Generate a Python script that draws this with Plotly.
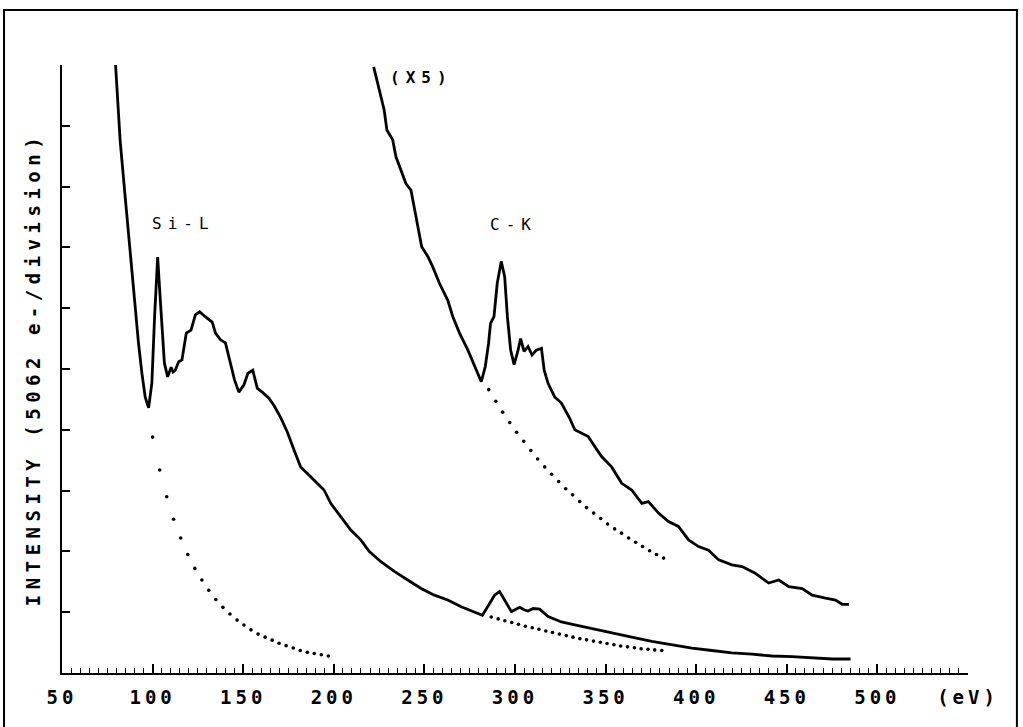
import plotly.graph_objects as go

# ---------------- data ----------------
# main spectrum (eV, intensity in divisions)
main_x = [79.5, 82.1, 84.9, 87.6, 89.9, 92.2, 94.1, 95.9, 97.8, 99.6, 101.1, 102.0, 102.8, 103.9,
          105.2, 106.5, 108.3, 110.2, 111.3, 112.5, 114.4, 116.2, 118.6, 121.2, 123.6, 126.0,
          129.1, 132.9, 134.7, 137.5, 140.2, 143.0, 145.2, 147.6, 150.4, 152.6, 155.3, 157.8,
          160.5, 164.2, 167.0, 170.7, 174.4, 178.0, 181.7, 185.4, 189.1, 194.6, 198.3, 203.9,
          209.4, 214.9, 219.5, 226.0, 233.4, 240.8, 248.2, 255.5, 262.9, 270.3, 275.8, 282.0,
          285.5, 288.7, 291.5, 294.3, 298.0, 300.5, 302.6, 305.0, 307.2, 310.0, 313.6, 318.3,
          325.6, 333.0, 342.2, 353.3, 364.4, 375.5, 386.5, 397.6, 408.7, 419.7, 430.8, 441.9,
          453.0, 464.0, 475.1, 485.2]
main_y = [10.03, 8.75, 7.82, 6.96, 6.13, 5.43, 4.93, 4.54, 4.36, 4.77, 5.86, 6.51, 6.84, 6.30,
          5.59, 5.10, 4.87, 5.03, 4.95, 4.98, 5.12, 5.15, 5.59, 5.64, 5.89, 5.94,
          5.86, 5.77, 5.59, 5.48, 5.43, 5.10, 4.82, 4.62, 4.74, 4.93, 4.98, 4.68,
          4.62, 4.52, 4.40, 4.20, 3.96, 3.67, 3.39, 3.28, 3.17, 3.01, 2.79, 2.57,
          2.35, 2.19, 2.00, 1.83, 1.67, 1.53, 1.39, 1.28, 1.20, 1.09, 1.03, 0.95,
          1.12, 1.28, 1.34, 1.20, 1.01, 1.05, 1.08, 1.04, 1.02, 1.06, 1.05, 0.93,
          0.84, 0.79, 0.73, 0.65, 0.59, 0.52, 0.46, 0.41, 0.37, 0.33, 0.31, 0.28,
          0.27, 0.25, 0.23, 0.23]

# x5 magnified spectrum
x5_x = [222.0, 225.1, 227.8, 229.3, 232.5, 234.3, 237.1, 239.8, 242.6, 244.4, 246.3, 248.5,
        251.9, 254.6, 258.3, 262.9, 265.7, 269.4, 274.0, 277.7, 281.4, 283.6, 285.4, 286.5,
        288.4, 290.2, 292.4, 294.3, 295.8, 297.6, 299.5, 301.7, 303.1, 305.0, 307.2, 309.4,
        311.8, 314.6, 316.1, 318.3, 320.1, 321.9, 325.6, 330.2, 333.0, 336.5, 340.4, 344.1,
        347.8, 353.3, 358.9, 364.4, 370.0, 373.6, 379.2, 384.7, 390.2, 395.8, 401.3, 406.8,
        412.4, 419.7, 425.3, 432.6, 440.0, 445.6, 451.1, 458.5, 464.0, 471.4, 476.9, 480.6,
        484.3]
x5_y = [9.97, 9.59, 9.26, 8.93, 8.77, 8.49, 8.27, 8.05, 7.94, 7.67, 7.34, 7.01,
        6.85, 6.68, 6.41, 6.13, 5.86, 5.59, 5.31, 5.04, 4.79, 5.04, 5.42, 5.75,
        5.86, 6.41, 6.77, 6.52, 5.86, 5.31, 5.07, 5.31, 5.50, 5.29, 5.37, 5.23,
        5.31, 5.34, 4.98, 4.76, 4.65, 4.54, 4.44, 4.19, 4.00, 3.95, 3.89, 3.72,
        3.56, 3.39, 3.12, 3.01, 2.79, 2.82, 2.63, 2.49, 2.41, 2.19, 2.08, 2.02,
        1.86, 1.78, 1.75, 1.64, 1.48, 1.53, 1.42, 1.39, 1.28, 1.23, 1.20, 1.13,
        1.13]

# dotted background extrapolations
bg_si_x = [100.0, 103.9, 107.8, 111.6, 115.5, 119.4, 123.3, 127.2, 131.0, 134.9, 138.8, 142.7,
           146.6, 150.4, 154.3, 158.2, 162.1, 166.0, 169.8, 173.7, 177.6, 181.5, 185.4, 189.2,
           193.1, 197.0]
bg_si_y = [3.88, 3.34, 2.90, 2.53, 2.22, 1.95, 1.72, 1.53, 1.36, 1.21, 1.08, 0.97,
           0.87, 0.79, 0.71, 0.64, 0.59, 0.54, 0.49, 0.45, 0.41, 0.37, 0.34, 0.32,
           0.30, 0.28]

bg_ck_x = [286.9, 290.7, 294.4, 298.2, 301.9, 305.7, 309.5, 313.2, 317.0, 320.7, 324.5, 328.3,
           332.0, 335.8, 339.5, 343.3, 347.1, 350.8, 354.6, 358.3, 362.1, 365.9, 369.6, 373.4,
           377.1, 381.0]
bg_ck_y = [0.92, 0.89, 0.86, 0.83, 0.80, 0.77, 0.745, 0.72, 0.69, 0.665, 0.64, 0.615,
           0.59, 0.565, 0.545, 0.525, 0.505, 0.485, 0.465, 0.445, 0.43, 0.415, 0.40, 0.39,
           0.38, 0.37]

bg_x5_x = [285.5, 289.4, 293.2, 297.1, 300.9, 304.8, 308.7, 312.5, 316.4, 320.2, 324.1, 328.0,
           331.8, 335.7, 339.5, 343.4, 347.3, 351.1, 355.0, 358.8, 362.7, 366.6, 370.4, 374.3,
           378.1, 382.0]
bg_x5_y = [4.66, 4.47, 4.29, 4.12, 3.96, 3.81, 3.66, 3.52, 3.39, 3.27, 3.15, 3.03,
           2.93, 2.82, 2.72, 2.63, 2.54, 2.45, 2.37, 2.30, 2.22, 2.15, 2.08, 2.01,
           1.95, 1.89]

tick_vals = [50, 100, 150, 200, 250, 300, 350, 400, 450, 500, 550]
tick_text = ["50", "100", "150", "200", "250", "300", "350", "400", "450", "500", "(eV)"]

labels = ["Si-L", "C-K", "(X5)"]
label_x = [117.0, 299.3, 248.2]
label_y = [7.40, 7.37, 9.79]

# ---------------- figure ----------------
MONO = "DejaVu Sans Mono"
fig = go.Figure()

for xs, ys in [(main_x, main_y), (x5_x, x5_y)]:
    fig.add_trace(go.Scatter(x=xs, y=ys, mode="lines",
                             line=dict(color="black", width=2.8), hoverinfo="skip"))

for xs, ys in [(bg_si_x, bg_si_y), (bg_ck_x, bg_ck_y), (bg_x5_x, bg_x5_y)]:
    fig.add_trace(go.Scatter(x=xs, y=ys, mode="markers",
                             marker=dict(color="black", size=3.6, line=dict(width=0)),
                             hoverinfo="skip"))

for t, x, y in zip(labels, label_x, label_y):
    bold = t == "(X5)"
    fig.add_annotation(x=x, y=y, text=t, showarrow=False, xanchor="center", yanchor="middle",
                       font=dict(family=MONO, size=16, color="black",
                                 weight="bold" if bold else "normal"))

# outer frame
fig.add_shape(type="rect", xref="paper", yref="paper",
              x0=-0.0640, x1=1.0540, y0=-0.12, y1=1.0905,
              line=dict(color="black", width=2), fillcolor="rgba(0,0,0,0)")

fig.update_layout(
    width=1023, height=727,
    margin=dict(l=62, r=55, t=65, b=54),
    paper_bgcolor="white", plot_bgcolor="white",
    showlegend=False,
    xaxis=dict(range=[50, 550], tickvals=tick_vals, ticktext=tick_text,
               ticks="inside", ticklen=9, tickwidth=1.6, tickcolor="black",
               minor=dict(dtick=5, tick0=50, ticks="inside", ticklen=5, tickwidth=1.4,
                          tickcolor="black", showgrid=False),
               showline=True, linecolor="black", linewidth=2.2,
               showgrid=False, zeroline=False,
               tickfont=dict(family=MONO, size=19, color="black", weight="bold"),
               ticklabelstandoff=6),
    yaxis=dict(range=[0, 10], dtick=1, tick0=0,
               ticks="inside", ticklen=8, tickwidth=1.8, tickcolor="black",
               showticklabels=False,
               showline=True, linecolor="black", linewidth=2.2,
               showgrid=False, zeroline=False,
               title=dict(text="INTENSITY (5062 e-/division)", standoff=14,
                          font=dict(family=MONO, size=19, color="black", weight="bold"))),
)

post = """
document.body.style.margin = '0';
document.body.style.overflow = 'hidden';
var gd = document.getElementById('{plot_id}');
function spacing(){
  gd.querySelectorAll('.xtick text').forEach(function(e){ e.style.letterSpacing='4px'; });
  gd.querySelectorAll('text.ytitle').forEach(function(e){ e.style.letterSpacing='5.5px'; });
  gd.querySelectorAll('.annotation-text').forEach(function(e){ e.style.letterSpacing='6px'; });
}
spacing();
gd.on('plotly_afterplot', spacing);
"""

fig.write_html("out.html", post_script=post, config={"displayModeBar": False})
